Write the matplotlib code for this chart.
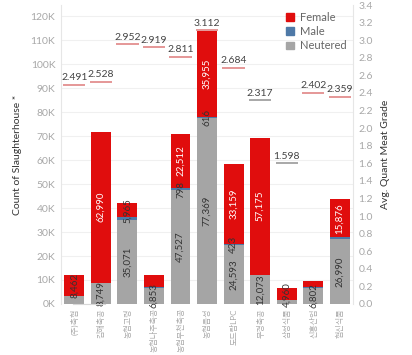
import matplotlib
matplotlib.use('Agg')
import matplotlib.pyplot as plt
from matplotlib.patches import Patch
import numpy as np

plt.rcParams['font.family'] = ['Lato', 'Noto Sans CJK KR', 'DejaVu Sans']

# data
plants = ['(주)축협', '김해축공', '농협고령', '농협나주축공', '농협부천축공', '농협음성',
          '도드람LPC', '부경축공', '삼성식품', '신흥산업', '협신식품']
neutered = [3400, 8749, 35071, 6853, 47527, 77369, 24593, 12073, 1500, 6802, 26990]
male = [100, 150, 1000, 100, 798, 616, 423, 100, 100, 300, 800]
female = [8462, 62990, 5965, 5000, 22512, 35955, 33159, 57175, 4960, 2600, 15876]
grade = [2.491, 2.528, 2.952, 2.919, 2.811, 3.112, 2.684, 2.317, 1.598, 2.402, 2.359]

# which segment labels tableau actually shows
show_neutered = [False, True, True, True, True, True, True, True, False, True, True]
show_male = [False, False, False, False, True, True, True, False, False, False, False]
show_female = [True, True, True, False, True, True, True, True, True, False, True]
grade_grey = [False, False, False, False, False, False, False, True, True, False, False]

RED = '#e00d0d'
BLUE = '#4e79a7'
GREY = '#a5a5a5'
TXT = '#333333'
TICK = '#a8a8a8'

fig = plt.figure(figsize=(4.12, 3.55), dpi=100)
ax = fig.add_axes([0.148, 0.1437, 0.709, 0.842])
ax2 = ax.twinx()

x = np.arange(len(plants))
neutered = np.array(neutered)
male = np.array(male)
female = np.array(female)
w = 0.75

ax.bar(x, neutered, w, color=GREY, zorder=2)
ax.bar(x, male, w, bottom=neutered, color=BLUE, zorder=2)
ax.bar(x, female, w, bottom=neutered + male, color=RED, zorder=2)

for i in x:
    if show_neutered[i]:
        ax.text(i, neutered[i] / 2, f'{neutered[i]:,}', rotation=90, ha='center',
                va='center', fontsize=7, color=TXT, zorder=3)
    if show_male[i]:
        ax.text(i, neutered[i] + male[i] / 2, f'{male[i]:,}', rotation=90, ha='center',
                va='center', fontsize=7, color=TXT, zorder=3)
    if show_female[i]:
        c = 'white' if female[i] > 10000 else TXT
        ax.text(i, neutered[i] + male[i] + female[i] / 2, f'{female[i]:,}', rotation=90,
                ha='center', va='center', fontsize=7, color=c, zorder=3)

ax.set_xlim(-0.5, len(plants) - 0.5)
ax.set_ylim(0, 124600)
ax.set_yticks(np.arange(0, 120001, 10000))
ax.set_yticklabels([f'{v // 1000}K' for v in range(0, 120001, 10000)])
ax.set_xticks(x)
ax.set_xticklabels(plants, rotation=90)
ax.tick_params(axis='x', length=0, labelsize=5.8, labelcolor=TICK, pad=3)
ax.tick_params(axis='y', length=0, labelsize=7.5, labelcolor=TICK, pad=4)
ax.grid(axis='y', color='#f0f0f0', linewidth=0.8, zorder=0)
ax.set_axisbelow(True)
ax.set_ylabel('Count of Slaughterhouse *', fontsize=7.5, color=TXT, labelpad=6)

for s in ['top', 'bottom', 'right']:
    ax.spines[s].set_visible(False)
ax.spines['left'].set_color('#e6e6e6')

# baseline runs past both axes
ax.plot([-0.03, 1.14], [0, 0], transform=ax.get_xaxis_transform(), color='#d8d8d8',
        linewidth=0.8, clip_on=False, zorder=4)

# grade markers on right axis
for i in x:
    col = '#9a9a9a' if grade_grey[i] else '#e08585'
    ax2.hlines(grade[i], i - 0.42, i + 0.42, color=col, linewidth=1.2)
    ax2.text(i, grade[i] + 0.03, f'{grade[i]:.3f}', ha='center', va='bottom',
             fontsize=7.5, color='#444444')

ax2.set_ylim(0, 3.4)
ax2.set_yticks(np.arange(0, 3.41, 0.2))
ax2.set_yticklabels([f'{v:.1f}' for v in np.arange(0, 3.41, 0.2)])
ax2.tick_params(axis='y', length=0, labelsize=7.5, labelcolor=TICK, pad=4)
ax2.set_ylabel('Avg. Quant Meat Grade', fontsize=7.5, color=TXT, labelpad=6)
for s in ['top', 'bottom', 'left']:
    ax2.spines[s].set_visible(False)
ax2.spines['right'].set_color('#e6e6e6')

handles = [Patch(color=RED, label='Female'), Patch(color=BLUE, label='Male'),
           Patch(color=GREY, label='Neutered')]
leg = ax2.legend(handles=handles, loc='upper right', bbox_to_anchor=(1.0, 1.0),
                 frameon=False, fontsize=8, handlelength=0.7, handleheight=0.7,
                 handletextpad=0.5, labelspacing=0.3, borderaxespad=0.2)
for t in leg.get_texts():
    t.set_color('#666666')

fig.savefig('out.png', dpi=100)
